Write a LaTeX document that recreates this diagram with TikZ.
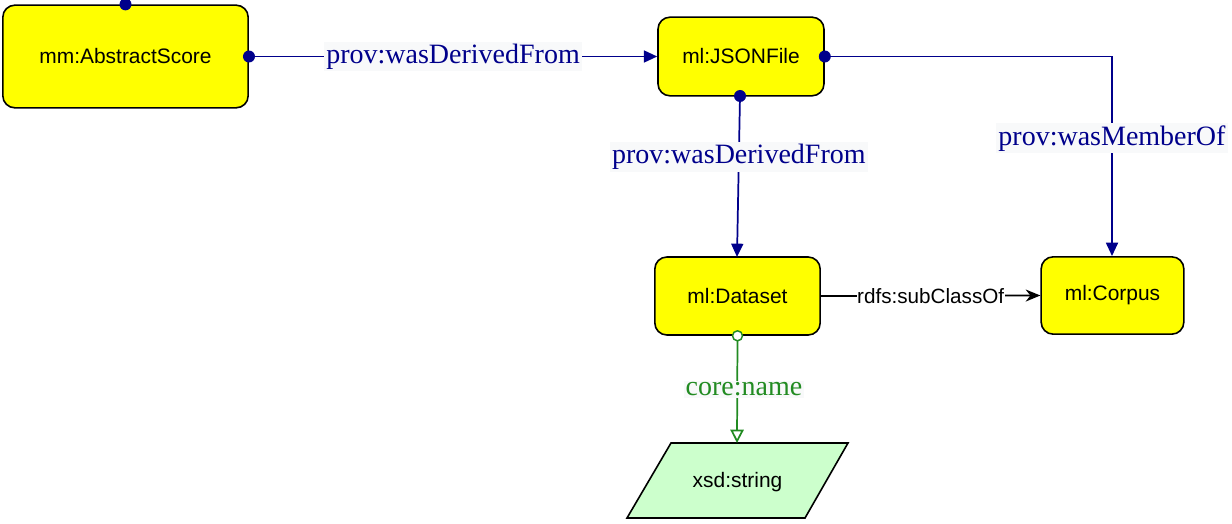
\documentclass[tikz,border=0pt]{standalone}
\usepackage{fontspec}
\setmainfont{Liberation Sans}
\newfontfamily\labelserif{Liberation Serif}
\usetikzlibrary{arrows.meta,positioning}
\definecolor{navyline}{RGB}{0,0,139}
\definecolor{greenline}{RGB}{34,139,34}
\definecolor{labelbg}{RGB}{248,249,250}
\definecolor{litgreen}{RGB}{204,255,204}
\definecolor{boxyellow}{RGB}{255,255,0}
\tikzset{
  cls/.style={draw=black, line width=1.2pt, fill=boxyellow, rounded corners=9pt, inner sep=0pt, font=\fontsize{15.7}{18}\selectfont},
  navy/.style={draw=navyline, line width=1.3pt},
  navyarrow/.style={navy, -{Triangle[length=10pt,width=9pt]}, navyline},
  dotstart/.style={fill=navyline, draw=none, circle, inner sep=0pt, minimum size=9pt},
  odot/.style={draw=greenline, fill=white, circle, inner sep=0pt, minimum size=7.5pt, line width=1.1pt},
  plabel/.style={fill=labelbg, inner sep=1.5pt, text=navyline, font=\labelserif\fontsize{21}{24}\selectfont},
  glabel/.style={fill=labelbg, inner sep=1.5pt, text=greenline, font=\labelserif\fontsize{21}{24}\selectfont},
  slabel/.style={fill=white, inner sep=0.5pt, text=black, font=\fontsize{15.5}{18}\selectfont},
}
\begin{document}
\begin{tikzpicture}[x=0.75pt,y=-0.75pt]
\useasboundingbox (0,0) rectangle (1232,524);
% nodes
\node[cls, minimum width=184pt, minimum height=77pt] (abs) at (125.5,56.5) {mm:AbstractScore};
\node[cls, minimum width=124.5pt, minimum height=59pt] (json) at (741,56.5) {ml:JSONFile};
\node[cls, minimum width=124pt, minimum height=58.5pt] (ds) at (737.5,296) {ml:Dataset};
\node[cls, minimum width=107pt, minimum height=58pt] (corp) at (1112.5,295.5) {ml:Corpus};
% parallelogram
\draw[line width=1.2pt, fill=litgreen] (671,443) -- (848,443) -- (805,518) -- (627,518) -- cycle;
\node[font=\fontsize{15.7}{18}\selectfont] (xsd) at (737.5,482) {xsd:string};
\coordinate (xsdtop) at (737,443);
% coordinates for connector ends
\coordinate (jsonB) at (740,96);
\coordinate (dsT) at (737,257);
\coordinate (corner) at (1112,56.5);
% edges
\draw[navyarrow] (abs.east) -- node[plabel] {prov:wasDerivedFrom} (json.west);
\draw[navyarrow] (jsonB) -- node[plabel, pos=0.38] {prov:wasDerivedFrom} (dsT);
\draw[navyarrow] (json.east) -- (corner) -- node[plabel, pos=0.41] {prov:wasMemberOf} (corp.north -| corner);
\draw[line width=1.3pt, -{Stealth[length=11pt,width=9pt,inset=3.5pt]}] (ds.east) -- node[slabel, pos=0.5] {rdfs:subClassOf} (corp.west);
\draw[greenline, line width=1.3pt, -{Triangle[open, length=10pt, width=10pt, fill=white]}] (ds.south) -- node[glabel, pos=0.5, xshift=5pt] {core:name} (xsdtop);
% dots
\node[dotstart] (d1) at (abs.north) {};
\node[dotstart] (d2) at (abs.east) {};
\node[dotstart] (d3) at (json.east) {};
\node[dotstart] (d4) at (jsonB) {};
\node[odot] (d5) at (ds.south) {};
\end{tikzpicture}
\end{document}
